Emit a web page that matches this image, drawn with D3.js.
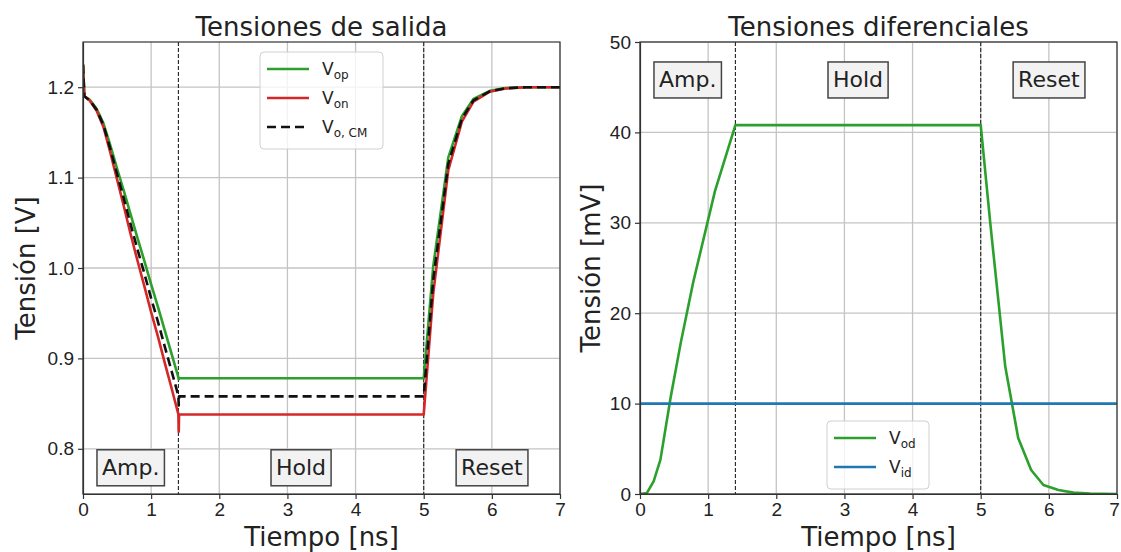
<!DOCTYPE html>
<html>
<head>
<meta charset="utf-8">
<script src="https://cdn.jsdelivr.net/npm/d3@7"></script>
<style>
  body { margin: 0; background: #fff; }
  svg { font-family: "DejaVu Sans", sans-serif; }
  .axis path, .axis line { stroke: #333; stroke-width: 1.2; }
  .axis text { fill: #222; font-size: 19px; }
  .grid line { stroke: #c4c4c4; stroke-width: 1.3; }
</style>
</head>
<body>
<script>
// ---- data ----
// left panel: output voltages [V] vs time [ns]
const outTime = [0, 0.02, 0.1, 0.2, 0.3, 0.4, 0.5, 0.6, 0.7, 0.8, 0.9, 1.0, 1.1, 1.2, 1.3, 1.4, 1.405, 1.41, 5.0, 5.14, 5.36, 5.56, 5.73, 5.97, 6.2, 6.5, 7.0];
const vop = [1.225, 1.19, 1.186, 1.176, 1.160, 1.136, 1.110, 1.085, 1.059, 1.033, 1.008, 0.982, 0.957, 0.931, 0.905, 0.879, 0.877, 0.878, 0.878, 1.002, 1.122, 1.168, 1.187, 1.196, 1.199, 1.2, 1.2];
const von = [1.225, 1.19, 1.185, 1.174, 1.156, 1.128, 1.098, 1.068, 1.037, 1.008, 0.980, 0.951, 0.924, 0.895, 0.867, 0.838, 0.819, 0.838, 0.838, 0.972, 1.108, 1.162, 1.184, 1.195, 1.1986, 1.1999, 1.2];
const vcm = [1.225, 1.19, 1.1855, 1.175, 1.158, 1.132, 1.104, 1.0765, 1.048, 1.0205, 0.994, 0.9665, 0.9405, 0.913, 0.886, 0.8585, 0.848, 0.858, 0.858, 0.987, 1.115, 1.165, 1.1855, 1.1955, 1.1988, 1.2, 1.2];

// right panel: differential voltages [mV] vs time [ns]
const diffTime = [0, 0.1, 0.2, 0.3, 0.45, 0.6, 0.78, 1.1, 1.4, 5.0, 5.14, 5.36, 5.55, 5.74, 5.92, 6.14, 6.36, 6.6, 7.0];
const vod = [0, 0.1, 1.4, 3.8, 10.7, 16.8, 23.4, 33.5, 40.8, 40.8, 30, 14.1, 6.2, 2.65, 1.0, 0.44, 0.15, 0.05, 0];
const vidTime = [0, 7];
const vid = [10, 10];

// phases
const phaseEdges = [1.4, 5];
const phaseNames = ["Amp.", "Hold", "Reset"];
const phaseCenters = [0.7, 3.2, 6.0];

const xTicks = [0, 1, 2, 3, 4, 5, 6, 7];
const outTicks = [0.8, 0.9, 1.0, 1.1, 1.2];
const diffTicks = [0, 10, 20, 30, 40, 50];

const colors = { op: "#2ca02c", on: "#d62728", cm: "#111", id: "#1f77b4" };

const svg = d3.select("body").append("svg")
  .attr("width", 1121)
  .attr("height", 552);

function drawPanel(opts) {
  const g = svg.append("g").attr("transform", `translate(${opts.left}, 42)`);
  const width = 477, height = 452;

  const xScale = d3.scaleLinear().domain([0, 7]).range([0, width]);
  const yScale = d3.scaleLinear().domain(opts.yDomain).range([height, 0]);

  // grid
  g.append("g").attr("class", "grid")
    .selectAll("line.v").data(xTicks).enter().append("line")
    .attr("x1", d => xScale(d)).attr("x2", d => xScale(d))
    .attr("y1", 0).attr("y2", height);
  g.append("g").attr("class", "grid")
    .selectAll("line.h").data(opts.yTicks).enter().append("line")
    .attr("x1", 0).attr("x2", width)
    .attr("y1", d => yScale(d)).attr("y2", d => yScale(d));

  // phase separators
  g.selectAll("line.phase").data(phaseEdges).enter().append("line")
    .attr("x1", d => xScale(d)).attr("x2", d => xScale(d))
    .attr("y1", 0).attr("y2", height)
    .attr("stroke", "#222").attr("stroke-width", 1.1)
    .attr("stroke-dasharray", "4,2");

  // curves
  const clipId = "clip" + opts.left;
  g.append("clipPath").attr("id", clipId).append("rect")
    .attr("width", width).attr("height", height);
  const plot = g.append("g").attr("clip-path", `url(#${clipId})`);

  opts.series.forEach(s => {
    const line = d3.line()
      .x((d, i) => xScale(s.t[i]))
      .y(d => yScale(d));
    plot.append("path")
      .datum(s.v)
      .attr("fill", "none")
      .attr("stroke", s.color)
      .attr("stroke-width", 2.6)
      .attr("stroke-linejoin", "round")
      .attr("stroke-dasharray", s.dash || null)
      .attr("d", line);
  });

  // phase labels in boxes
  phaseNames.forEach((name, i) => {
    const lg = g.append("g");
    const txt = lg.append("text")
      .attr("x", xScale(phaseCenters[i]))
      .attr("y", yScale(opts.labelY))
      .attr("text-anchor", "middle")
      .attr("dominant-baseline", "central")
      .attr("font-size", 22)
      .attr("fill", "#222")
      .text(name);
    const bb = txt.node().getBBox();
    lg.insert("rect", "text")
      .attr("x", bb.x - 5).attr("y", yScale(opts.labelY) - 18)
      .attr("width", bb.width + 10).attr("height", 36)
      .attr("fill", "#f2f2f2").attr("stroke", "#444").attr("stroke-width", 1.5);
  });

  // axes
  const xAxisGroup = g.append("g").attr("class", "axis")
    .attr("transform", `translate(0, ${height})`)
    .call(d3.axisBottom(xScale).tickValues(xTicks).tickSize(5).tickSizeOuter(0).tickPadding(4).tickFormat(d3.format("d")));
  if (opts.nudgeLast) {
    // keep the last label inside the page
    xAxisGroup.selectAll(".tick:last-of-type text").attr("dx", -3);
  }
  g.append("g").attr("class", "axis")
    .call(d3.axisLeft(yScale).tickValues(opts.yTicks).tickSize(5).tickSizeOuter(0).tickPadding(4).tickFormat(opts.yFormat));
  g.append("rect")
    .attr("width", width).attr("height", height)
    .attr("fill", "none").attr("stroke", "#333").attr("stroke-width", 1.2);

  // titles
  g.append("text")
    .attr("x", width / 2).attr("y", -6)
    .attr("text-anchor", "middle").attr("font-size", 26).attr("fill", "#222")
    .text(opts.title);
  g.append("text")
    .attr("x", width / 2).attr("y", height + 52)
    .attr("text-anchor", "middle").attr("font-size", 26).attr("fill", "#222")
    .text("Tiempo [ns]");
  g.append("text")
    .attr("transform", `translate(${opts.yLabelX}, ${height / 2}) rotate(-90)`)
    .attr("text-anchor", "middle").attr("font-size", 26).attr("fill", "#222")
    .text(opts.yLabel);

  // legend
  const leg = g.append("g").attr("transform", `translate(${opts.legend.x}, ${opts.legend.y})`);
  leg.append("rect")
    .attr("width", opts.legend.w).attr("height", opts.series.length * 29 + 10)
    .attr("rx", 4)
    .attr("fill", "rgba(255,255,255,0.8)").attr("stroke", "#d0d0d0");
  opts.series.forEach((s, i) => {
    const yy = 17 + i * 29;
    leg.append("line")
      .attr("x1", 7).attr("x2", 49).attr("y1", yy).attr("y2", yy)
      .attr("stroke", s.color).attr("stroke-width", 2.6)
      .attr("stroke-dasharray", s.dash ? "9,5" : null);
    const t = leg.append("text").attr("x", 62).attr("y", yy + 6)
      .attr("font-size", 17).attr("fill", "#222");
    t.append("tspan").text("V");
    t.append("tspan").attr("dy", 4).attr("font-size", 12).text(s.sub);
  });
}

drawPanel({
  left: 83,
  yDomain: [0.75, 1.25],
  yTicks: outTicks,
  yFormat: d3.format(".1f"),
  labelY: 0.779,
  title: "Tensiones de salida",
  yLabel: "Tensión [V]",
  yLabelX: -48,
  legend: { x: 177, y: 10, w: 123 },
  series: [
    { t: outTime, v: vop, color: colors.op, sub: "op" },
    { t: outTime, v: von, color: colors.on, sub: "on" },
    { t: outTime, v: vcm, color: colors.cm, sub: "o, CM", dash: "9,5" }
  ]
});

drawPanel({
  left: 640,
  yDomain: [0, 50],
  yTicks: diffTicks,
  yFormat: d3.format("d"),
  labelY: 45.8,
  title: "Tensiones diferenciales",
  yLabel: "Tensión [mV]",
  yLabelX: -40,
  legend: { x: 187, y: 379, w: 102 },
  nudgeLast: true,
  series: [
    { t: diffTime, v: vod, color: colors.op, sub: "od" },
    { t: vidTime, v: vid, color: colors.id, sub: "id" }
  ]
});
</script>
</body>
</html>
